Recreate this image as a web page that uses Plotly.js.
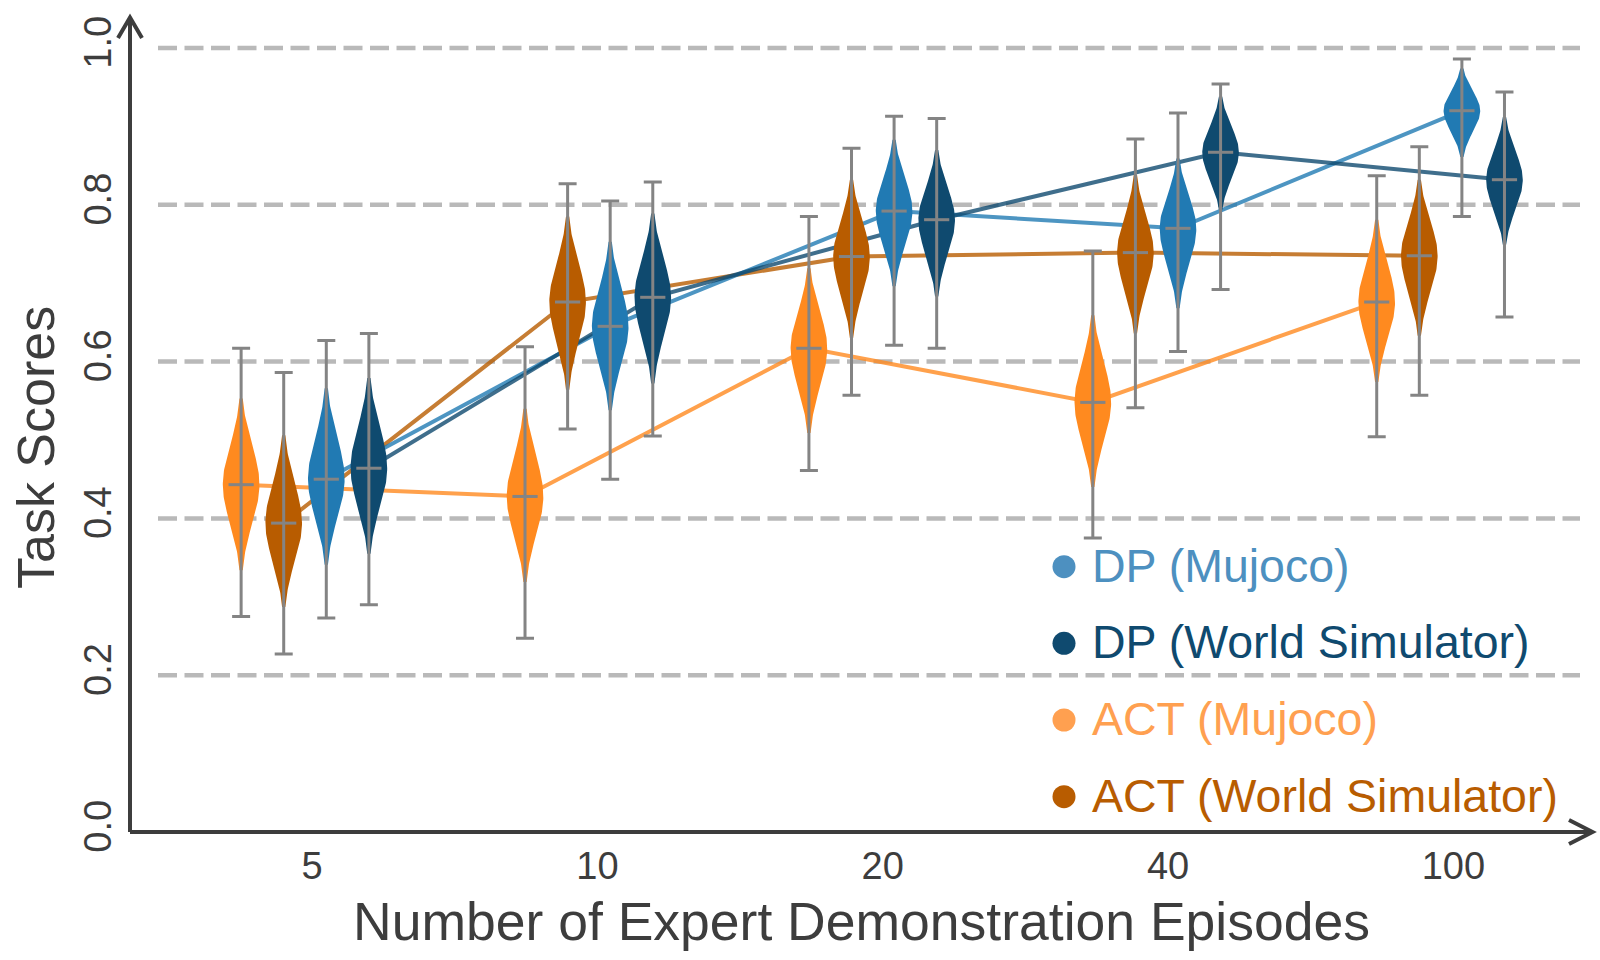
<!DOCTYPE html>
<html>
<head>
<meta charset="utf-8">
<script src="https://cdn.plot.ly/plotly-3.0.1.min.js"></script>
<style>html,body{margin:0;padding:0;background:#fff;}#chart{width:1600px;height:960px;}</style>
</head>
<body>
<div id="chart"></div>
<script>
// ---- data ----
const categories = ["5", "10", "20", "40", "100"];
const seriesNames = ["ACT (Mujoco)", "ACT (World Simulator)", "DP (Mujoco)", "DP (World Simulator)"];

// means
const actMujocoMean = [0.443, 0.428, 0.617, 0.548, 0.676];
const actWorldMean  = [0.394, 0.676, 0.734, 0.739, 0.735];
const dpMujocoMean  = [0.450, 0.645, 0.792, 0.770, 0.920];
const dpWorldMean   = [0.464, 0.682, 0.781, 0.867, 0.832];

// whisker ends
const actMujocoLow  = [0.275, 0.247, 0.461, 0.375, 0.504];
const actMujocoHigh = [0.617, 0.619, 0.785, 0.741, 0.837];
const actWorldLow   = [0.227, 0.514, 0.557, 0.541, 0.557];
const actWorldHigh  = [0.586, 0.827, 0.872, 0.884, 0.874];
const dpMujocoLow   = [0.273, 0.450, 0.621, 0.613, 0.785];
const dpMujocoHigh  = [0.627, 0.805, 0.913, 0.917, 0.986];
const dpWorldLow    = [0.290, 0.505, 0.617, 0.692, 0.657];
const dpWorldHigh   = [0.636, 0.829, 0.910, 0.954, 0.944];

// violin body extents
const actMujocoVLow  = [0.334, 0.319, 0.509, 0.440, 0.574];
const actMujocoVHigh = [0.553, 0.540, 0.719, 0.659, 0.781];
const actWorldVLow   = [0.287, 0.564, 0.630, 0.636, 0.633];
const actWorldVHigh  = [0.506, 0.785, 0.832, 0.838, 0.832];
const dpMujocoVLow   = [0.341, 0.538, 0.696, 0.668, 0.861];
const dpMujocoVHigh  = [0.566, 0.753, 0.883, 0.859, 0.974];
const dpWorldVLow    = [0.355, 0.572, 0.683, 0.793, 0.749];
const dpWorldVHigh   = [0.579, 0.789, 0.870, 0.938, 0.912];

const yTicks = [0.0, 0.2, 0.4, 0.6, 0.8, 1.0];

// ---- styling ----
const fillColors = ["#ff8a1f", "#b85c00", "#217ab3", "#0f4a6f"];
const lineColors = ["rgba(255,138,31,0.8)", "rgba(184,92,0,0.8)", "rgba(33,122,179,0.8)", "rgba(15,74,111,0.8)"];
const legendColors = ["#ffa050", "#b85c00", "#4d90c0", "#0f4a6f"];
const offsets = [-0.225, -0.075, 0.075, 0.225];
const halfWidth = 0.0645;
const gray = "#848484";
const axisColor = "#3d3d3d";
const FONT = "Liberation Sans, Arial, Helvetica, sans-serif";

const series = [
  {mean: actMujocoMean, lo: actMujocoLow, hi: actMujocoHigh, vlo: actMujocoVLow, vhi: actMujocoVHigh},
  {mean: actWorldMean,  lo: actWorldLow,  hi: actWorldHigh,  vlo: actWorldVLow,  vhi: actWorldVHigh},
  {mean: dpMujocoMean,  lo: dpMujocoLow,  hi: dpMujocoHigh,  vlo: dpMujocoVLow,  vhi: dpMujocoVHigh},
  {mean: dpWorldMean,   lo: dpWorldLow,   hi: dpWorldHigh,   vlo: dpWorldVLow,   vhi: dpWorldVHigh}
];

const traces = [];
const catIdx = categories.map((c, i) => i);

// connecting lines (behind violins)
series.forEach((s, k) => {
  traces.push({
    type: "scatter", mode: "lines",
    x: catIdx.map(i => i + offsets[k]), y: s.mean,
    line: {color: lineColors[k], width: 4},
    hoverinfo: "skip", showlegend: false
  });
});

// violin bodies
const Z = 2.2, N = 50;
series.forEach((s, k) => {
  catIdx.forEach(i => {
    const cx = i + offsets[k];
    const m = s.mean[i];
    const sUp = (s.vhi[i] - m) / Z, sDn = (m - s.vlo[i]) / Z;
    const ys = [], ws = [];
    for (let j = 0; j <= N; j++) {          // bottom -> mean
      const y = s.vlo[i] + (m - s.vlo[i]) * j / N;
      const z = (y - m) / sDn;
      ys.push(y); ws.push(halfWidth * Math.exp(-z * z / 2));
    }
    for (let j = 1; j <= N; j++) {          // mean -> top
      const y = m + (s.vhi[i] - m) * j / N;
      const z = (y - m) / sUp;
      ys.push(y); ws.push(halfWidth * Math.exp(-z * z / 2));
    }
    const xs = ws.map(w => cx + w).concat(ws.slice().reverse().map(w => cx - w));
    const yy = ys.concat(ys.slice().reverse());
    traces.push({
      type: "scatter", mode: "lines", x: xs, y: yy,
      fill: "toself", fillcolor: fillColors[k],
      line: {width: 0, color: fillColors[k]},
      hoverinfo: "skip", showlegend: false
    });
  });
});

// whiskers + mean ticks
series.forEach((s, k) => {
  traces.push({
    type: "scatter", mode: "markers",
    x: catIdx.map(i => i + offsets[k]), y: s.mean,
    marker: {symbol: "line-ew", size: 18, color: gray, line: {width: 3, color: gray}},
    error_y: {type: "data", symmetric: false,
      array: s.hi.map((h, i) => h - s.mean[i]),
      arrayminus: s.lo.map((l, i) => s.mean[i] - l),
      color: gray, thickness: 3, width: 9},
    name: seriesNames[k], hoverinfo: "skip", showlegend: false
  });
});

// ---- layout geometry (plot area: x 130..1593, y 17..832) ----
const L = 130, R = 1593, T = 17, B = 832;
const W = R - L, H = B - T;
const px = x => (x - L) / W;
const py = y => (B - y) / H;

const shapes = [];
// dashed gridlines
yTicks.filter(v => v > 0).forEach(v => {
  shapes.push({type: "line", layer: "below", xref: "paper", yref: "y",
    x0: px(158), x1: px(1580), y0: v, y1: v,
    line: {color: "#b9b9b9", width: 4.5, dash: "19px,7.5px"}});
});
// axes
shapes.push({type: "line", xref: "paper", yref: "paper", x0: 0, x1: 1, y0: 0, y1: 0, line: {color: axisColor, width: 4}});
shapes.push({type: "line", xref: "paper", yref: "paper", x0: 0, x1: 0, y0: 0, y1: 1, line: {color: axisColor, width: 4}});
// arrow heads (open chevrons)
shapes.push({type: "path", xref: "paper", yref: "paper",
  path: `M ${px(118)} ${py(38)} L ${px(130)} ${py(17.5)} L ${px(142)} ${py(38)}`,
  line: {color: axisColor, width: 4}});
shapes.push({type: "path", xref: "paper", yref: "paper",
  path: `M ${px(1569)} ${py(820)} L ${px(1592.5)} ${py(832)} L ${px(1569)} ${py(844)}`,
  line: {color: axisColor, width: 4}});

// legend (order as in figure)
const legendOrder = [2, 3, 0, 1];
const legendY = [566.7, 643.3, 720, 796.7];
const annotations = [];
legendOrder.forEach((k, r) => {
  shapes.push({type: "circle", xref: "paper", yref: "paper",
    xsizemode: "pixel", ysizemode: "pixel",
    xanchor: px(1064), yanchor: py(legendY[r]),
    x0: -11.5, x1: 11.5, y0: -11.5, y1: 11.5,
    fillcolor: legendColors[k], line: {width: 0}});
  annotations.push({xref: "paper", yref: "paper", x: px(1090), y: py(legendY[r] - 1),
    xanchor: "left", yanchor: "middle", showarrow: false,
    text: seriesNames[k], font: {family: FONT, size: 46.5, color: legendColors[k]}});
});
// axis titles
annotations.push({xref: "paper", yref: "paper", x: px(861.5), y: py(921), xanchor: "center", yanchor: "middle",
  showarrow: false, text: "Number of Expert Demonstration Episodes", font: {family: FONT, size: 53.5, color: axisColor}});
annotations.push({xref: "paper", yref: "paper", x: px(36), y: py(448), xanchor: "center", yanchor: "middle",
  showarrow: false, textangle: -90, text: "Task Scores", font: {family: FONT, size: 52, color: axisColor}});

const layout = {
  width: 1600, height: 960,
  margin: {l: L, r: 1600 - R, t: T, b: 960 - B},
  paper_bgcolor: "#ffffff", plot_bgcolor: "#ffffff",
  showlegend: false,
  xaxis: {
    range: [(L - 305) / 283.9, (R - 305) / 283.9],
    tickvals: catIdx.map(i => i * 1.005 + 0.025), ticktext: categories,
    showgrid: false, zeroline: false, showline: false, ticks: "",
    ticklabelstandoff: 8,
    tickfont: {family: FONT, size: 38, color: axisColor}
  },
  yaxis: {
    range: [0, (B - T) / 784],
    tickvals: yTicks, ticktext: yTicks.map(v => v.toFixed(1)),
    tickangle: -90,
    showgrid: false, zeroline: false, showline: false, ticks: "",
    ticklabelstandoff: 10,
    tickfont: {family: FONT, size: 38, color: axisColor}
  },
  shapes: shapes,
  annotations: annotations
};

Plotly.newPlot("chart", traces, layout, {staticPlot: true});
</script>
</body>
</html>
